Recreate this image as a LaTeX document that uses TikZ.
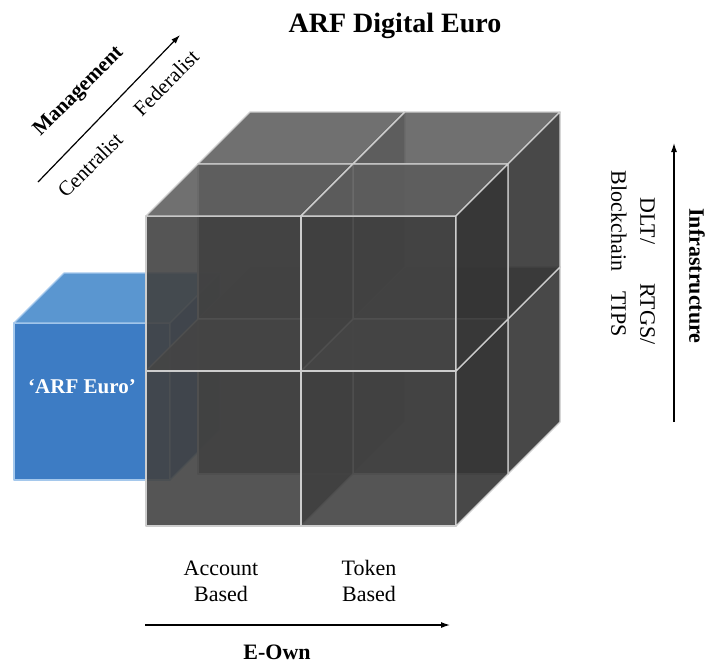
\documentclass[tikz,border=0pt]{standalone}
\usepackage{fontspec}
\setmainfont{Liberation Serif}
\usetikzlibrary{arrows.meta}

\definecolor{cubefront}{RGB}{66,66,66}
\definecolor{cubetop}{RGB}{96,96,96}
\definecolor{cuberight}{RGB}{52,52,52}
\definecolor{cubeedge}{RGB}{205,205,205}
\definecolor{eurofront}{RGB}{61,124,196}
\definecolor{eurotop}{RGB}{90,150,208}
\definecolor{euroright}{RGB}{50,104,170}
\definecolor{euroedge}{RGB}{165,200,236}

\def\backcells{198/319, 353/319, 198/164, 353/164}
\def\frontcells{146/371, 301/371, 146/216, 301/216}
\tikzstyle{cell}=[draw=cubeedge, line width=1.3pt, fill opacity=0.9, line join=round]
\tikzstyle{euro}=[draw=euroedge, line width=1.2pt, line join=round]
\tikzstyle{axis}=[line width=1.2pt, -{Latex[length=9pt,width=6pt]}]
\tikzstyle{title}=[font=\bfseries\fontsize{28}{32}\selectfont]
\tikzstyle{axis name}=[font=\bfseries\fontsize{22}{26}\selectfont]
\tikzstyle{axis value}=[font=\fontsize{22}{26}\selectfont, align=center]
\tikzstyle{slanted value}=[font=\fontsize{21}{26}\selectfont, rotate=45]

\begin{document}
\begin{tikzpicture}[x=1pt, y=-1pt]
  \useasboundingbox (0,0) rectangle (708,664);

  % The blue cube sits behind the grey one
  \path[euro, fill=eurofront] (14,323) rectangle (170,480);
  \path[euro, fill=eurotop] (14,323) -- (64,273) -- (220,273) -- (170,323) -- cycle;
  \path[euro, fill=euroright] (170,323) -- (220,273) -- (220,430) -- (170,480) -- cycle;
  \node[axis name, text=white, font=\bfseries\fontsize{21}{26}\selectfont] (arfeuro) at (82,387) {‘ARF Euro’};

  % Eight see-through cells, back row first
  \foreach \cx/\cy in \backcells {
    \begin{scope}[shift={(\cx,\cy)}]
      \path[cell, fill=cubefront] (0,0) rectangle (155,155);
      \path[cell, fill=cubetop] (0,0) -- (52,-52) -- (207,-52) -- (155,0) -- cycle;
      \path[cell, fill=cuberight] (155,0) -- (207,-52) -- (207,103) -- (155,155) -- cycle;
    \end{scope}
  }
  \foreach \cx/\cy in \frontcells {
    \begin{scope}[shift={(\cx,\cy)}]
      \path[cell, fill=cubefront] (0,0) rectangle (155,155);
      \path[cell, fill=cubetop] (0,0) -- (52,-52) -- (207,-52) -- (155,0) -- cycle;
      \path[cell, fill=cuberight] (155,0) -- (207,-52) -- (207,103) -- (155,155) -- cycle;
    \end{scope}
  }

  \node[title] (title) at (395,26) {ARF Digital Euro};

  % Management axis
  \coordinate (m0) at (38,182);
  \coordinate (m1) at (180,35);
  \draw[axis] (m0) -- (m1);
  \node[axis name, font=\bfseries\fontsize{21}{26}\selectfont, rotate=45] (mgmt) at (79,92) {Management};
  \node[slanted value] (central) at (90,165) {Centralist};
  \node[slanted value] (federal) at (166,83) {Federalist};

  % E-Own axis
  \coordinate (e0) at (145,625);
  \coordinate (e1) at (450,625);
  \draw[axis] (e0) -- (e1);
  \node[axis value] (account) at (221,581) {Account\\Based};
  \node[axis value] (token) at (369,581) {Token\\Based};
  \node[axis name, inner sep=1pt] (eown) at (277,652) {E-Own};

  % Infrastructure axis
  \coordinate (i0) at (674,422);
  \coordinate (i1) at (674,143);
  \draw[axis] (i0) -- (i1);
  \node[axis name, rotate=-90] (infra) at (697,276) {Infrastructure};
  \node[axis value, rotate=-90, font=\fontsize{22}{29}\selectfont] (dlt) at (633,221) {DLT/\\Blockchain};
  \node[axis value, rotate=-90, font=\fontsize{22}{29}\selectfont] (rtgs) at (633,314) {RTGS/\\TIPS};
\end{tikzpicture}
\end{document}
